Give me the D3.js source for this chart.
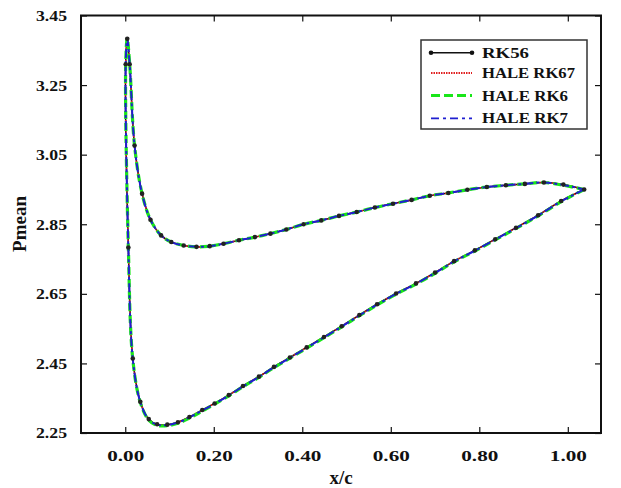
<!DOCTYPE html>
<html><head><meta charset="utf-8">
<script src="https://cdn.jsdelivr.net/npm/d3@7"></script>
<style>
html,body{margin:0;padding:0;background:#fff;}
svg text{font-family:"Liberation Serif","Times New Roman",serif;font-weight:bold;fill:#111;}
</style></head>
<body><svg id="c" width="621" height="488"></svg>
<script>
// x/c positions along the closed loop (trailing edge -> lower branch -> leading edge -> upper branch -> trailing edge)
const xc = [1.037,0.985,0.933,0.883,0.836,0.790,0.743,0.700,0.657,0.612,0.569,0.529,0.489,0.449,0.410,0.372,0.336,0.302,0.266,0.234,0.202,0.174,0.145,0.119,0.095,0.072,0.053,0.034,0.017,0.007,0.001,0.0045,0.010,0.021,0.038,0.057,0.081,0.104,0.132,0.161,0.191,0.222,0.257,0.293,0.328,0.364,0.403,0.443,0.483,0.523,0.564,0.605,0.647,0.688,0.730,0.773,0.817,0.860,0.903,0.946,0.990,1.037];
const pRK56 = [2.950,2.917,2.876,2.840,2.807,2.775,2.744,2.711,2.680,2.651,2.620,2.589,2.557,2.526,2.496,2.467,2.440,2.412,2.385,2.359,2.335,2.316,2.296,2.281,2.274,2.275,2.290,2.340,2.464,2.783,3.310,3.383,3.310,3.076,2.938,2.863,2.818,2.799,2.789,2.785,2.787,2.794,2.804,2.813,2.823,2.835,2.850,2.861,2.874,2.885,2.898,2.909,2.920,2.932,2.940,2.949,2.957,2.962,2.966,2.970,2.964,2.950];
const pHALE_RK67 = [2.950,2.917,2.876,2.840,2.807,2.775,2.744,2.711,2.680,2.651,2.620,2.589,2.557,2.526,2.496,2.467,2.440,2.412,2.385,2.359,2.335,2.316,2.296,2.281,2.274,2.275,2.290,2.340,2.464,2.783,3.310,3.383,3.310,3.076,2.938,2.863,2.818,2.799,2.789,2.785,2.787,2.794,2.804,2.813,2.823,2.835,2.850,2.861,2.874,2.885,2.898,2.909,2.920,2.932,2.940,2.949,2.957,2.962,2.966,2.970,2.964,2.950];
const pHALE_RK6 = [2.950,2.915,2.874,2.838,2.805,2.773,2.742,2.709,2.678,2.649,2.618,2.587,2.555,2.524,2.494,2.465,2.438,2.410,2.383,2.357,2.333,2.313,2.293,2.278,2.271,2.272,2.287,2.338,2.462,2.783,3.310,3.383,3.310,3.076,2.938,2.863,2.818,2.799,2.789,2.785,2.787,2.794,2.804,2.813,2.823,2.835,2.850,2.861,2.874,2.885,2.898,2.909,2.920,2.932,2.940,2.949,2.957,2.962,2.966,2.970,2.962,2.950];
const pHALE_RK7 = [2.950,2.916,2.875,2.839,2.806,2.774,2.743,2.710,2.679,2.650,2.619,2.588,2.556,2.525,2.495,2.466,2.439,2.411,2.384,2.358,2.334,2.315,2.295,2.280,2.273,2.274,2.289,2.339,2.463,2.783,3.310,3.383,3.310,3.076,2.938,2.863,2.818,2.799,2.789,2.785,2.787,2.794,2.804,2.813,2.823,2.835,2.850,2.861,2.874,2.885,2.898,2.909,2.920,2.932,2.940,2.949,2.957,2.962,2.966,2.970,2.963,2.950];
const xTicks = [0.00,0.20,0.40,0.60,0.80,1.00];
const yTicks = [2.25,2.45,2.65,2.85,3.05,3.25,3.45];
const seriesNames = ["RK56","HALE RK67","HALE RK6","HALE RK7"];

const svg = d3.select("#c");
const L=81, R=601, T=15.5, B=433;
const x = d3.scaleLinear().domain([-0.1,1.075]).range([L,R]);
const y = d3.scaleLinear().domain([2.25,3.45]).range([B,T]);

// frame
svg.append("rect").attr("x",L).attr("y",T).attr("width",R-L).attr("height",B-T)
  .attr("fill","none").attr("stroke","#111").attr("stroke-width",2);

// axes with inward ticks
const gB = svg.append("g").attr("transform",`translate(0,${B})`)
  .call(d3.axisBottom(x).tickValues(xTicks).tickSize(-6).tickFormat(d3.format(".2f")).tickPadding(17));
const gT = svg.append("g").attr("transform",`translate(0,${T})`)
  .call(d3.axisTop(x).tickValues(xTicks).tickSize(-6).tickFormat(""));
const gL = svg.append("g").attr("transform",`translate(${L},0)`)
  .call(d3.axisLeft(y).tickValues(yTicks).tickSize(-6).tickFormat(d3.format(".2f")).tickPadding(14));
const gR = svg.append("g").attr("transform",`translate(${R},0)`)
  .call(d3.axisRight(y).tickValues(yTicks).tickSize(-6).tickFormat(""));
[gB,gT,gL,gR].forEach(g=>{
  g.select(".domain").remove();
  g.selectAll(".tick line").attr("stroke","#111").attr("stroke-width",1.2);
});
gB.selectAll(".tick text").attr("font-size",15.5).attr("font-family","Liberation Serif").attr("font-weight","bold")
  .attr("fill","#111").attr("textLength",37).attr("lengthAdjust","spacingAndGlyphs");
gL.selectAll(".tick text").attr("font-size",15.5).attr("font-family","Liberation Serif").attr("font-weight","bold")
  .attr("fill","#111").attr("textLength",31).attr("lengthAdjust","spacingAndGlyphs");

// axis titles
svg.append("text").attr("x",(L+R)/2).attr("y",484).attr("text-anchor","middle")
  .attr("font-size",19).text("x/c");
svg.append("text").attr("transform",`translate(26,224) rotate(-90)`).attr("text-anchor","middle")
  .attr("font-size",19).text("Pmean");

// series
const mk = arr => xc.map((v,i)=>[v,arr[i]]);
const line = d3.line().x(d=>x(d[0])).y(d=>y(d[1])).curve(d3.curveCatmullRom.alpha(0.5));
const styles = [
  {data:mk(pRK56), stroke:"#111", w:1.5, dash:null},
  {data:mk(pHALE_RK67), stroke:"#e02020", w:1.6, dash:"1.5,1"},
  {data:mk(pHALE_RK6), stroke:"#19e619", w:3.2, dash:"8,4"},
  {data:mk(pHALE_RK7), stroke:"#1f1fd0", w:2, dash:"9,3,3,3"}
];
styles.forEach(s=>{
  svg.append("path").datum(s.data).attr("d",line).attr("fill","none")
    .attr("stroke",s.stroke).attr("stroke-width",s.w)
    .attr("stroke-dasharray",s.dash).attr("stroke-linejoin","round");
});
svg.append("g").selectAll("circle").data(mk(pRK56).slice(0,-1)).join("circle")
  .attr("cx",d=>x(d[0])).attr("cy",d=>y(d[1])).attr("r",2.3).attr("fill","#222");

// legend
const lg = svg.append("g");
lg.append("rect").attr("x",421).attr("y",40).attr("width",166).attr("height",89)
  .attr("fill","#fff").attr("stroke","#333").attr("stroke-width",1.5);
const rowY = [52.8,73,95.5,118.3];
const textW = [47,93,86,86];
styles.forEach((s,i)=>{
  lg.append("line").attr("x1",431).attr("x2",472).attr("y1",rowY[i]).attr("y2",rowY[i])
    .attr("stroke",s.stroke).attr("stroke-width",i===2?3.2:(i===0?1.5:1.8))
    .attr("stroke-dasharray", i===1?"1.5,1":(i===2?"9,4":(i===3?"8,4,3,4":null)));
  if(i===0){
    [431,472].forEach(cx=>lg.append("circle").attr("cx",cx).attr("cy",rowY[i]).attr("r",2.3).attr("fill","#111"));
  }
  lg.append("text").attr("x",482).attr("y",rowY[i]+5).attr("font-size",15.5)
    .attr("textLength",textW[i]).attr("lengthAdjust","spacingAndGlyphs").text(seriesNames[i]);
});
</script></body></html>
